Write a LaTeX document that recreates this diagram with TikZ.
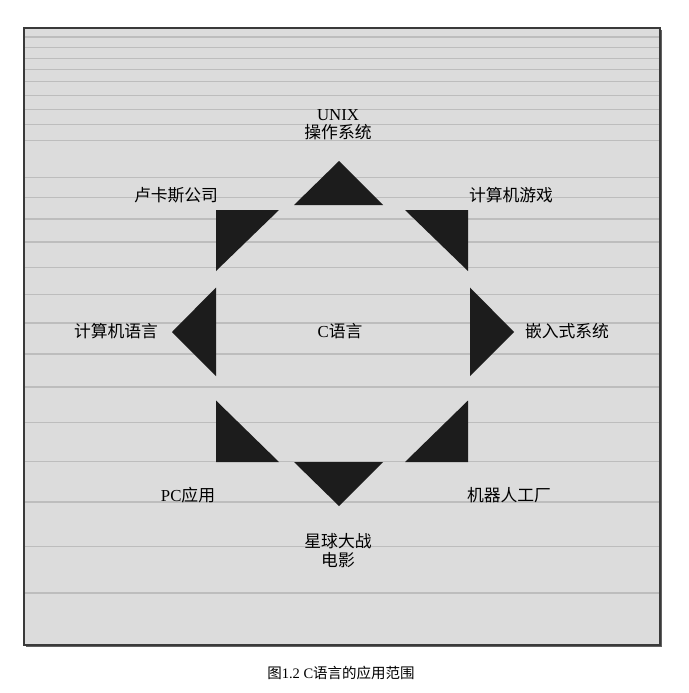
\documentclass[tikz,border=0pt]{standalone}
\usepackage{fontspec}
\setmainfont{Liberation Serif}
\newfontfamily\cjk{Noto Sans CJK SC}
\definecolor{panel}{HTML}{DCDCDC}
\definecolor{rule}{HTML}{BDBDBD}
\definecolor{frame}{HTML}{3A3A3A}
\definecolor{trifill}{HTML}{1C1C1C}
\begin{document}
\begin{tikzpicture}[x=1pt,y=-1pt,
  lab/.style={font=\fontsize{16.8}{17.5}\selectfont, text=black, inner sep=0pt, align=center},
  captext/.style={font=\fontsize{14.5}{16}\selectfont, text=black, inner sep=0pt},
  tribox/.style={fill=trifill, draw=none},
  hline/.style={draw=rule, line width=1.1pt}]
\useasboundingbox (0,0) rectangle (688,693);
% panel
\fill[panel] (24,28) rectangle (660,645);
\foreach \yy in {37,47.3,58.3,69.3,81.7,95.3,109.3,124.3,140.7,177.3,197.7,219,242,267.3,294.3,323,354,387,422.7,461.5,502,546.5,593}
  \draw[hline] (25,\yy) -- (659,\yy);
\draw[frame, line width=1.6pt] (24,28) rectangle (660,645);
\draw[frame!80, line width=1pt] (661.5,30) -- (661.5,646.5) -- (26,646.5);
% triangles
\path[tribox] (339,161) -- (383,205) -- (294,205) -- cycle;
\path[tribox] (216,210) -- (279,210) -- (216,271) -- cycle;
\path[tribox] (405,210) -- (468,210) -- (468,271) -- cycle;
\path[tribox] (172,332) -- (216,287.5) -- (216,376) -- cycle;
\path[tribox] (514,332) -- (470,287.5) -- (470,376) -- cycle;
\path[tribox] (216,400.5) -- (216,462) -- (279,462) -- cycle;
\path[tribox] (468,400.5) -- (468,462) -- (405,462) -- cycle;
\path[tribox] (294,462) -- (383,462) -- (339,506) -- cycle;
% labels
\node[lab] (unix) at (338,124.5) {UNIX\\{\cjk 操作系统}};
\node[lab] (lucas) at (176,195) {\cjk 卢卡斯公司};
\node[lab] (game) at (511,195) {\cjk 计算机游戏};
\node[lab] (lang) at (116,331) {\cjk 计算机语言};
\node[lab] (clang) at (340,331) {C{\cjk 语言}};
\node[lab] (embed) at (567,331) {\cjk 嵌入式系统};
\node[lab] (pc) at (188,495) {PC{\cjk 应用}};
\node[lab] (robot) at (509,495) {\cjk 机器人工厂};
\node[lab] (star) at (338,550.5) {{\cjk 星球大战}\\[1.5pt]{\cjk 电影}};
\node[captext] (caption) at (341,673) {{\cjk 图}1.2 C{\cjk 语言的应用范围}};
\end{tikzpicture}
\end{document}
